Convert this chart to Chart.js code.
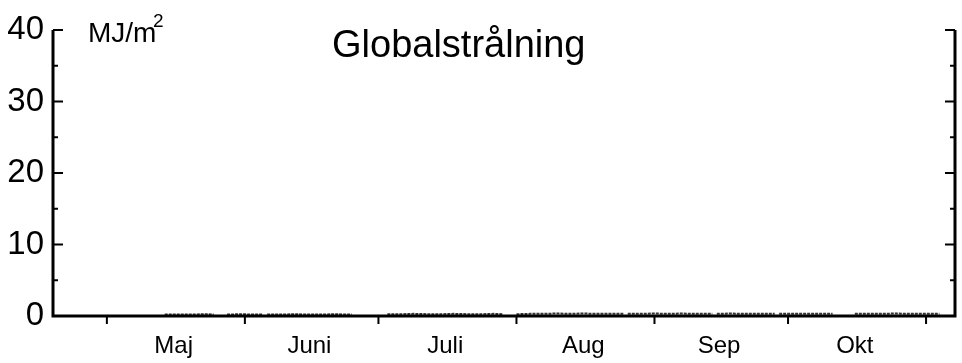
<!DOCTYPE html>
<html>
<head>
<meta charset="utf-8">
<script src="https://cdn.jsdelivr.net/npm/chart.js@4/dist/chart.umd.min.js"></script>
<style>
  html, body { margin: 0; padding: 0; background: #fff; }
  #wrap { width: 962px; height: 363px; }
</style>
</head>
<body>
<div id="wrap"><canvas id="chart"></canvas></div>
<script>
// データ（日 = 年初からの日数）
const monthLabels = ['Maj', 'Juni', 'Juli', 'Aug', 'Sep', 'Okt'];
const monthMid = [136, 166.5, 197, 228, 258.5, 289];
const monthStarts = [121, 152, 182, 213, 244, 274, 305];
const yTicks = [0, 10, 20, 30, 40];
const yMinorTicks = [5, 15, 25, 35];

const days = [134, 137, 140, 143, 145, 146,
  148, 151, 154, 156, 156.5,
  157, 160, 163, 166, 169, 172, 176, 180,
  184, 187, 190, 193, 196, 199, 202, 205, 208, 210, 211.5,
  213, 216, 219, 222, 225, 228, 231, 234, 237, 237.4,
  238, 241, 244, 247, 250, 253, 257, 257.5,
  258, 261, 264, 267, 271, 271.8,
  272, 275, 278, 281, 284, 286,
  289, 292, 295, 298, 301, 304, 308];
const radiation = [0.2, 0.2, 0.2, 0.25, 0.2, null,
  0.2, 0.25, 0.2, 0.2, null,
  0.2, 0.2, 0.25, 0.2, 0.2, 0.25, 0.2, null,
  0.25, 0.25, 0.3, 0.25, 0.25, 0.3, 0.25, 0.25, 0.3, 0.25, null,
  0.25, 0.3, 0.3, 0.35, 0.3, 0.35, 0.3, 0.3, 0.3, null,
  0.3, 0.3, 0.35, 0.3, 0.35, 0.3, 0.3, null,
  0.3, 0.35, 0.3, 0.3, 0.3, null,
  0.3, 0.3, 0.3, 0.3, 0.3, null,
  0.3, 0.3, 0.3, 0.35, 0.3, 0.3, 0.3];

const FONT = '"Liberation Sans", Arial, sans-serif';

// 軸と目盛りを描く
const axisPlugin = {
  id: 'axisBox',
  afterDatasetsDraw(chart) {
    const { ctx, chartArea: a, scales } = chart;
    const x = scales.x, y = scales.y;
    ctx.save();
    ctx.strokeStyle = '#000';
    ctx.lineWidth = 3;
    ctx.beginPath();
    ctx.moveTo(a.left, a.top);
    ctx.lineTo(a.left, a.bottom);
    ctx.lineTo(a.right, a.bottom);
    ctx.lineTo(a.right, a.top);
    ctx.stroke();

    ctx.lineWidth = 2;
    ctx.beginPath();
    yTicks.forEach(v => {
      const py = y.getPixelForValue(v);
      ctx.moveTo(a.left, py); ctx.lineTo(a.left + 10, py);
      ctx.moveTo(a.right, py); ctx.lineTo(a.right - 10, py);
    });
    yMinorTicks.forEach(v => {
      const py = y.getPixelForValue(v);
      ctx.moveTo(a.left, py); ctx.lineTo(a.left + 5, py);
      ctx.moveTo(a.right, py); ctx.lineTo(a.right - 5, py);
    });
    monthStarts.forEach(v => {
      const px = x.getPixelForValue(v);
      ctx.moveTo(px, a.bottom); ctx.lineTo(px, a.bottom + 8);
    });
    ctx.stroke();

    // タイトルと単位
    ctx.fillStyle = '#000';
    ctx.textBaseline = 'alphabetic';
    ctx.textAlign = 'left';
    ctx.font = '38px ' + FONT;
    ctx.fillText('Globalstrålning', 332, 57);
    ctx.font = '28px ' + FONT;
    ctx.fillText('MJ/m', 88, 42);
    ctx.font = '19px ' + FONT;
    ctx.fillText('2', 153, 27);
    ctx.restore();
  }
};

const points = days.map((d, i) => ({ x: d, y: radiation[i] }));

new Chart(document.getElementById('chart'), {
  type: 'line',
  data: {
    datasets: [{
      label: 'Globalstrålning',
      data: points,
      borderColor: '#333',
      borderWidth: 2,
      borderDash: [3, 1],
      pointRadius: 0,
      spanGaps: false,
      tension: 0
    }]
  },
  options: {
    responsive: true,
    maintainAspectRatio: false,
    animation: false,
    layout: { padding: { top: 30, right: 7, bottom: 0, left: 0 } },
    plugins: { legend: { display: false }, tooltip: { enabled: false } },
    scales: {
      x: {
        type: 'linear',
        min: 108.9,
        max: 311.5,
        grid: { display: false, drawTicks: false },
        border: { display: false },
        afterBuildTicks: s => { s.ticks = monthMid.map(v => ({ value: v })); },
        afterFit: s => { s.height = 47; },
        ticks: {
          autoSkip: false,
          maxRotation: 0,
          padding: 16,
          color: '#000',
          font: { family: FONT, size: 24 },
          callback: (v, i) => monthLabels[i]
        }
      },
      y: {
        min: 0,
        max: 40,
        grid: { display: false, drawTicks: false },
        border: { display: false },
        afterBuildTicks: s => { s.ticks = yTicks.map(v => ({ value: v })); },
        afterFit: s => { s.width = 53; },
        ticks: {
          padding: 9,
          color: '#000',
          font: { family: FONT, size: 33 }
        }
      }
    }
  },
  plugins: [axisPlugin]
});
</script>
</body>
</html>
